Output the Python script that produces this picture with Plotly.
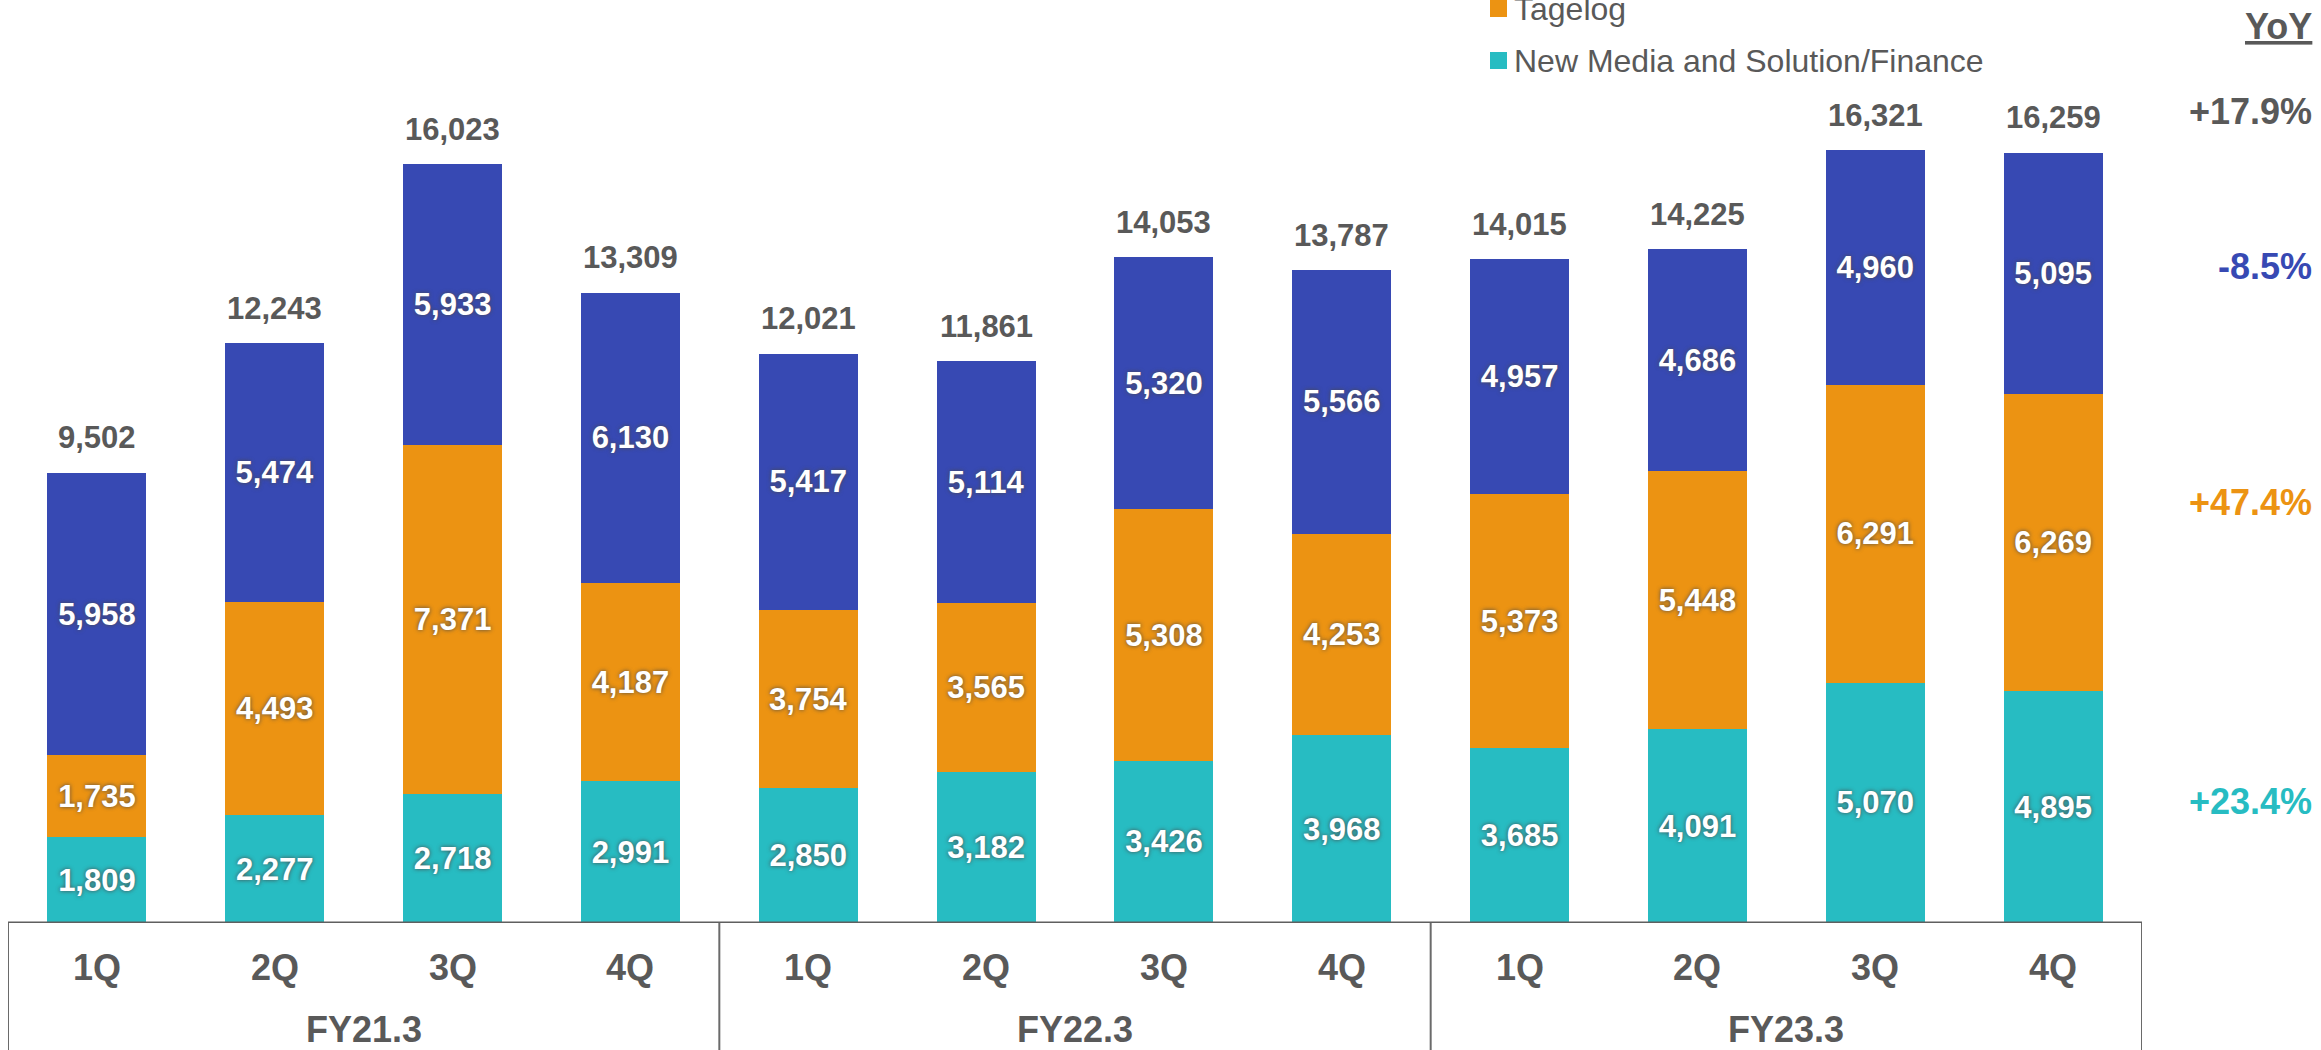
import plotly.graph_objects as go

quarters = ["1Q", "2Q", "3Q", "4Q"] * 3
fiscal_years = ["FY21.3", "FY22.3", "FY23.3"]
new_media = [1809, 2277, 2718, 2991, 2850, 3182, 3426, 3968, 3685, 4091, 5070, 4895]
tagelog = [1735, 4493, 7371, 4187, 3754, 3565, 5308, 4253, 5373, 5448, 6291, 6269]
blue_segment = [5958, 5474, 5933, 6130, 5417, 5114, 5320, 5566, 4957, 4686, 4960, 5095]
totals = [9502, 12243, 16023, 13309, 12021, 11861, 14053, 13787, 14015, 14225, 16321, 16259]
yoy_labels = ["+17.9%", "-8.5%", "+47.4%", "+23.4%"]

BLUE = "#3749B3"
ORANGE = "#EC9312"
TEAL = "#27BCC2"
GRAY = "#595959"
FONT = "Liberation Sans, Arial, sans-serif"

W, H = 2321, 1050
ML, MR, MT, MB = 8, 179, 0, 127
PW, PH = W - ML - MR, H - MT - MB


def px_x(x):
    return (x - ML) / PW


def px_y(y):
    return (PH + MT - y) / PH


x = list(range(len(quarters)))
inside_font = dict(family=FONT, size=31, color="white", weight="bold",
                   shadow="0px 0px 4px #4a4a4a")

fig = go.Figure()
for vals, color, name in [(new_media, TEAL, "New Media and Solution/Finance"),
                          (tagelog, ORANGE, "Tagelog"),
                          (blue_segment, BLUE, "Other")]:
    fig.add_trace(go.Bar(
        x=x, y=vals, name=name, marker=dict(color=color, line=dict(width=0)),
        text=[f"{v:,}" for v in vals], textposition="inside",
        insidetextanchor="middle", textangle=0, constraintext="none",
        insidetextfont=inside_font, textfont=inside_font, showlegend=False,
        cliponaxis=False,
    ))

annotations = []
for i, t in enumerate(totals):
    annotations.append(dict(x=i, y=t, xref="x", yref="y", text=f"{t:,}",
                            showarrow=False, yshift=35, yanchor="middle",
                            font=dict(family=FONT, size=31, color=GRAY, weight="bold")))
for i, q in enumerate(quarters):
    annotations.append(dict(x=i, y=px_y(967), xref="x", yref="paper", text=q,
                            showarrow=False, yanchor="middle",
                            font=dict(family=FONT, size=36, color=GRAY, weight="bold")))
for g, fy in enumerate(fiscal_years):
    annotations.append(dict(x=g * 4 + 1.5, y=px_y(1029), xref="x", yref="paper", text=fy,
                            showarrow=False, yanchor="middle",
                            font=dict(family=FONT, size=36, color=GRAY, weight="bold")))

# YoY column
annotations.append(dict(x=px_x(2314), y=px_y(27), xref="paper", yref="paper", text="YoY",
                        showarrow=False, xanchor="right", yanchor="middle",
                        font=dict(family=FONT, size=36, color=GRAY, weight="bold",
                                  lineposition="under")))
for lab, ypix, col in zip(yoy_labels, [111, 266, 502, 801], [GRAY, BLUE, ORANGE, TEAL]):
    annotations.append(dict(x=px_x(2314), y=px_y(ypix), xref="paper", yref="paper", text=lab,
                            showarrow=False, xanchor="right", yanchor="middle",
                            font=dict(family=FONT, size=36, color=col, weight="bold")))

# manual legend
shapes = []
for ypix, col, lab in [(8.5, ORANGE, "Tagelog"), (60.5, TEAL, "New Media and Solution/Finance")]:
    shapes.append(dict(type="rect", xref="paper", yref="paper",
                       x0=px_x(1490), x1=px_x(1507), y0=px_y(ypix - 8.5), y1=px_y(ypix + 8.5),
                       fillcolor=col, line=dict(width=0)))
    annotations.append(dict(x=px_x(1512), y=px_y(ypix), xref="paper", yref="paper", text=lab,
                            showarrow=False, xanchor="left", yanchor="middle",
                            font=dict(family=FONT, size=32, color=GRAY)))

# category table lines
shapes.append(dict(type="line", xref="x", yref="y", x0=-0.5, x1=11.5, y0=0, y1=0,
                   line=dict(color="#5f5f5f", width=3)))
for xb in [-0.5, 3.5, 7.5, 11.5]:
    shapes.append(dict(type="line", xref="x", yref="paper", x0=xb, x1=xb,
                       y0=0, y1=px_y(1060), line=dict(color="#6a6a6a", width=2)))

fig.update_layout(
    width=W, height=H, barmode="stack", bargap=0.443,
    margin=dict(l=ML, r=MR, t=MT, b=MB, pad=0),
    paper_bgcolor="white", plot_bgcolor="white",
    xaxis=dict(range=[-0.5, 11.5], showticklabels=False, showgrid=False,
               zeroline=False, showline=False, ticks=""),
    yaxis=dict(range=[0, PH / 0.04736], visible=False, showgrid=False, zeroline=False),
    annotations=annotations, shapes=shapes,
    font=dict(family=FONT, color=GRAY),
)

fig.write_html("out.html", config={"displayModeBar": False},
               post_script="document.body.style.margin='0';document.body.style.overflow='hidden';")
